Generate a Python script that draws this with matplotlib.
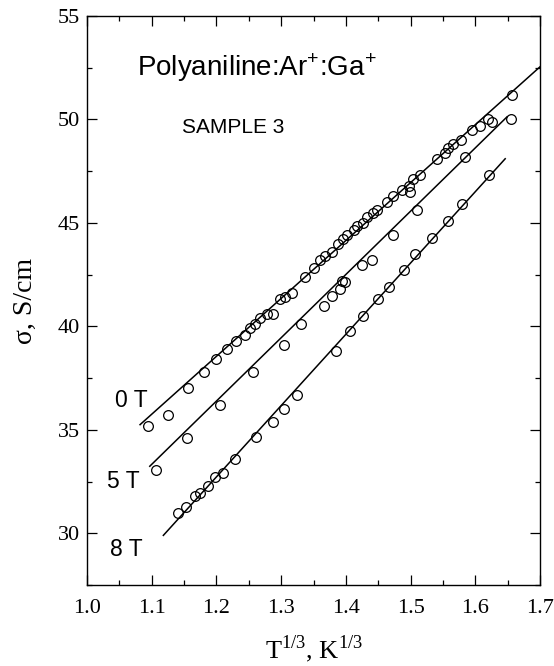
import matplotlib
matplotlib.use("Agg")
import matplotlib.pyplot as plt
import numpy as np
from matplotlib.ticker import MultipleLocator

plt.rcParams["mathtext.fontset"] = "custom"
plt.rcParams["mathtext.rm"] = "Liberation Serif"
plt.rcParams["mathtext.sf"] = "Liberation Sans"

# ---- data ----
x_0T = [1.094, 1.125, 1.156, 1.181, 1.200, 1.217, 1.230, 1.244, 1.252, 1.260, 1.267, 1.278,
        1.288, 1.298, 1.306, 1.316, 1.337, 1.350, 1.360, 1.368, 1.378, 1.388, 1.396, 1.401,
        1.412, 1.417, 1.427, 1.432, 1.442, 1.448, 1.463, 1.473, 1.486, 1.497, 1.499, 1.504,
        1.515, 1.540, 1.553, 1.558, 1.566, 1.577, 1.594, 1.607, 1.620, 1.625, 1.657]
y_0T = [35.2, 35.7, 37.0, 37.8, 38.4, 38.9, 39.3, 39.6, 39.9, 40.1, 40.4, 40.6,
        40.6, 41.3, 41.4, 41.6, 42.4, 42.8, 43.2, 43.4, 43.6, 44.0, 44.2, 44.4,
        44.65, 44.85, 45.0, 45.3, 45.5, 45.6, 46.0, 46.3, 46.6, 46.8, 46.5, 47.1,
        47.3, 48.1, 48.4, 48.6, 48.8, 49.0, 49.5, 49.7, 50.0, 49.9, 51.2]

x_5T = [1.107, 1.155, 1.206, 1.256, 1.305, 1.331, 1.366, 1.379, 1.391, 1.394, 1.399,
        1.425, 1.440, 1.473, 1.510, 1.584, 1.655]
y_5T = [33.05, 34.6, 36.2, 37.8, 39.1, 40.1, 41.0, 41.45, 41.8, 42.2, 42.15,
        42.95, 43.2, 44.4, 45.6, 48.2, 50.0]

x_8T = [1.141, 1.153, 1.167, 1.175, 1.187, 1.198, 1.210, 1.229, 1.261, 1.288, 1.304,
        1.324, 1.385, 1.406, 1.427, 1.449, 1.467, 1.489, 1.507, 1.533, 1.558, 1.579, 1.621]
y_8T = [31.0, 31.27, 31.8, 31.97, 32.3, 32.7, 32.9, 33.6, 34.65, 35.4, 36.0,
        36.7, 38.8, 39.8, 40.5, 41.3, 41.9, 42.7, 43.5, 44.25, 45.1, 45.9, 47.3]

# fitted straight lines: (x_start, x_end, y_start, y_end)
fit_0T = [1.082, 1.700, 35.25, 52.55]
fit_5T = [1.097, 1.649, 33.24, 50.13]
fit_8T = [1.118, 1.646, 29.90, 48.10]

series_labels = ["0 T", "5 T", "8 T"]
label_pos = [(1.043, 36.4), (1.031, 32.5), (1.036, 29.2)]

x_ticks = [1.0, 1.1, 1.2, 1.3, 1.4, 1.5, 1.6, 1.7]
y_ticks = [30, 35, 40, 45, 50, 55]

# ---- figure ----
fig = plt.figure(figsize=(5.54, 6.66), dpi=100)
ax = fig.add_axes([0.157, 0.1216, 0.818, 0.8544])

serif = ["Liberation Serif", "DejaVu Serif"]
sans = ["Liberation Sans", "DejaVu Sans"]

for xs, ys, fit in [(x_0T, y_0T, fit_0T), (x_5T, y_5T, fit_5T), (x_8T, y_8T, fit_8T)]:
    ax.plot([fit[0], fit[1]], [fit[2], fit[3]], color="black", lw=1.1, zorder=2)
    ax.plot(xs, ys, linestyle="none", marker="o", markersize=7.0,
            markerfacecolor="none", markeredgecolor="black", markeredgewidth=0.9, zorder=3)

for lab, (lx, ly) in zip(series_labels, label_pos):
    ax.text(lx, ly, lab, fontsize=16.5, family=sans, ha="left", va="center")

ax.text(1.077, 52.5, r"Polyaniline:Ar$^{\mathsf{+}}$:Ga$^{\mathsf{+}}$", fontsize=20,
        family=sans, ha="left", va="center")
ax.text(1.147, 49.6, "SAMPLE 3", fontsize=15, family=sans, ha="left", va="center")

ax.set_xlim(1.0, 1.7)
ax.set_ylim(27.5, 55)
ax.set_xticks(x_ticks)
ax.set_xticklabels(["%.1f" % v for v in x_ticks])
ax.set_yticks(y_ticks)
ax.set_yticklabels(["%d" % v for v in y_ticks])
ax.xaxis.set_minor_locator(MultipleLocator(0.05))
ax.yaxis.set_minor_locator(MultipleLocator(2.5))
ax.set_xlim(1.0, 1.7)
ax.set_ylim(27.5, 55)
ax.tick_params(which="both", direction="in", top=True, right=True, width=0.9)
ax.tick_params(which="major", length=7)
ax.tick_params(which="minor", length=3.5)
ax.tick_params(axis="x", which="major", pad=10)
ax.tick_params(axis="y", which="major", pad=5)

for lbl in ax.get_xticklabels() + ax.get_yticklabels():
    lbl.set_family(serif)
    lbl.set_fontsize(16)

for sp in ax.spines.values():
    sp.set_linewidth(1.0)

ax.set_xlabel(r"T$^{\mathrm{1/3}}$, K$^{\mathrm{1/3}}$", fontsize=19, family=serif,
              va="center")
ax.set_ylabel("σ, S/cm", fontsize=20, family=serif, va="center")
ax.xaxis.set_label_coords(0.5, -0.112)
ax.yaxis.set_label_coords(-0.135, 0.5)

fig.savefig("out.png", dpi=100)
